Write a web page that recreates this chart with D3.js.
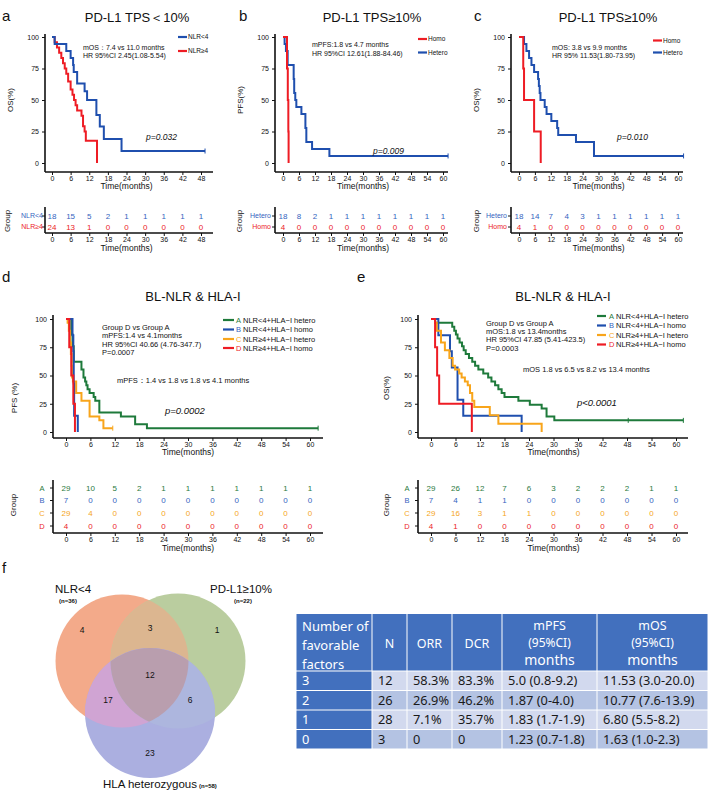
<!DOCTYPE html>
<html><head><meta charset="utf-8">
<script src="https://cdn.jsdelivr.net/npm/d3@7"></script>
<style>
body{margin:0;background:#fff}
svg{display:block}
text{font-family:"Liberation Sans",Arial,sans-serif}
</style>
</head><body>
<svg id="c" width="709" height="791"></svg>
<script>
// ---------------- DATA ----------------
const ticks48 = [0,6,12,18,24,30,36,42,48];
const ticks60 = [0,6,12,18,24,30,36,42,48,54,60];
const yTicks = [0,25,50,75,100];

// Panel a (OS, PD-L1 TPS<10%)
const aNLRlow = [[0,100],[0.86,94.4],[4.6,88.9],[6.0,83.3],[6.8,77.8],[7.0,72.2],[8.1,63.0],[10.5,57.0],[11.3,50.0],[14.3,38.0],[15.4,29.0],[16.7,19.0],[22.4,9.5]];
const aNLRlowEnd = 49.3;
const aNLRhigh = [[0,100],[0.86,95.8],[1.6,91.7],[2.3,87.5],[3.0,83.3],[3.55,79.2],[4.1,75.0],[4.6,70.8],[5.2,64.6],[6.0,58.3],[6.6,54.2],[7.1,50.0],[7.6,45.8],[8.1,41.7],[9.5,37.5],[10.0,29.2],[10.5,25.0],[10.9,17.6],[14.5,0]];
const aRiskLow = [18,15,5,2,1,1,1,1,1];
const aRiskHigh = [24,13,1,0,0,0,0,0,0];

// Panel b (PFS, PD-L1 TPS>=10%)
const bHomo = [[0,100],[1.5,75],[1.8,50],[2.0,25],[2.1,0]];
const bHetero = [[0,100],[0.6,94.4],[1.1,88.9],[1.75,77.8],[4.0,66.7],[4.2,55.6],[4.6,50.0],[5.0,44.4],[6.9,38.9],[8.4,27.8],[8.75,16.7],[10.9,11.1],[17.4,5.6]];
const bHeteroEnd = 61.9;
const bRiskHetero = [18,8,2,1,1,1,1,1,1,1,1];
const bRiskHomo = [4,0,0,0,0,0,0,0,0,0,0];

// Panel c (OS, PD-L1 TPS>=10%)
const cHomo = [[0,100],[1.6,75],[1.9,50],[5.7,25],[8.2,0]];
const cHetero = [[0,100],[1.9,94.4],[2.8,88.9],[3.8,83.3],[4.7,77.8],[5.7,72.2],[7.2,66.7],[7.5,61.1],[7.8,55.6],[8.1,50.0],[9.7,44.4],[10.4,38.9],[12.2,33.3],[14.4,27.8],[14.8,22.2],[21.5,16.7],[28.3,5.6]];
const cHeteroEnd = 62.1;
const cRiskHetero = [18,14,7,4,3,1,1,1,1,1,1];
const cRiskHomo = [4,1,0,0,0,0,0,0,0,0,0];

// Panel d (PFS, BL-NLR & HLA-I)
const dA = [[0,100],[1.3,86.2],[1.6,75.9],[1.9,62.1],[3.8,55.2],[4.3,48.3],[4.7,44.8],[5.0,41.4],[5.3,37.9],[5.8,34.5],[6.8,31.0],[7.2,27.6],[8.2,17.2],[13.5,13.8],[17.0,6.9],[19.9,3.4]];
const dAEnd = 62;
const dB = [[0,100],[1.6,85.7],[1.8,71.4],[1.9,42.9],[2.0,14.3],[2.9,0]];
const dC = [[0,100],[0.4,96.6],[0.7,89.7],[1.0,79.3],[1.2,69.0],[1.4,58.6],[1.5,48.3],[1.7,44.8],[2.5,34.5],[3.8,27.6],[5.8,13.8],[8.2,10.3],[9.2,3.4]];
const dCEnd = 11.5;
const dD = [[0,100],[0.8,75],[1.3,50],[1.8,25],[2.2,0]];
const dRiskA = [29,10,5,2,1,1,1,1,1,1,1];
const dRiskB = [7,0,0,0,0,0,0,0,0,0,0];
const dRiskC = [29,4,0,0,0,0,0,0,0,0,0];
const dRiskD = [4,0,0,0,0,0,0,0,0,0,0];

// Panel e (OS, BL-NLR & HLA-I)
const eA = [[0,100],[1.0,96.6],[5.2,93.1],[5.7,89.7],[6.1,86.2],[6.5,82.8],[7.0,79.3],[7.6,75.9],[8.0,72.4],[8.5,69.0],[9.3,65.5],[10.1,62.1],[10.8,58.6],[11.6,55.2],[12.8,51.7],[14.0,48.3],[14.8,44.8],[15.7,41.4],[16.5,37.9],[17.3,34.5],[18.0,31.0],[21.4,27.6],[24.2,24.1],[27.1,20.7],[28.3,13.8],[30.2,10.3]];
const eAEnd = 61.8;
const eACensor = [48.3];
const eB = [[0,100],[1.8,85.7],[4.65,71.4],[5.1,57.1],[6.5,28.6],[7.9,14.3],[22.2,0]];
const eC = [[0,100],[1.0,96.6],[1.4,89.7],[2.45,79.3],[3.4,72.4],[4.5,65.5],[5.3,58.6],[5.9,55.2],[6.9,51.7],[7.5,48.3],[8.3,44.8],[9.0,41.4],[9.55,34.5],[10.1,27.6],[10.6,22.2],[14.4,14.8],[16.5,7.4],[27.1,0]];
const eD = [[0,100],[1.0,75],[1.5,50],[2.0,25],[10.0,0]];
const eRiskA = [29,26,12,7,6,3,2,2,2,1,1];
const eRiskB = [7,4,1,1,0,0,0,0,0,0,0];
const eRiskC = [29,16,3,1,1,0,0,0,0,0,0];
const eRiskD = [4,1,0,0,0,0,0,0,0,0,0];

// Panel f Venn
const vennNames = ["NLR<4","PD-L1≥10%","HLA heterozygous"];
const vennN = ["(n=36)","(n=22)","(n=58)"];
const vennOnly = [4,1,23];          // A only, B only, C only
const vennPairs = [3,17,6];          // AB, AC, BC
const vennAll = 12;

// Panel f table
const tblHeader = [["Number of","favorable","factors"],["N"],["ORR"],["DCR"],["mPFS","(95%CI)","months"],["mOS","(95%CI)","months"]];
const tblFactors = ["3","2","1","0"];
const tblN = ["12","26","28","3"];
const tblORR = ["58.3%","26.9%","7.1%","0"];
const tblDCR = ["83.3%","46.2%","35.7%","0"];
const tblPFS = ["5.0 (0.8-9.2)","1.87 (0-4.0)","1.83 (1.7-1.9)","1.23 (0.7-1.8)"];
const tblOS = ["11.53 (3.0-20.0)","10.77 (7.6-13.9)","6.80 (5.5-8.2)","1.63 (1.0-2.3)"];

// ---------------- STYLE ----------------
const BLUE = "#1f4fae", RED = "#ee1c24", GREEN = "#1e7a3b", ORANGE = "#f8a51b";
const tBLUE = "#3564c0", tRED = "#eb2328", tGREEN = "#2b7a40", tORANGE = "#f5a623";

const svg = d3.select("#c");

function txt(x, y, s, o = {}) {
  const t = svg.append("text").attr("x", x).attr("y", y).text(s)
    .attr("font-size", o.size || 7).attr("fill", o.fill || "#111")
    .attr("text-anchor", o.anchor || "start");
  if (o.weight) t.attr("font-weight", o.weight);
  if (o.style) t.attr("font-style", o.style);
  if (o.rotate) t.attr("transform", `rotate(-90,${x},${y})`);
  if (o.dy) t.attr("dy", o.dy);
  if (o.family) t.style("font-family", o.family);
  return t;
}

function drawKM(p) {
  const x = d3.scaleLinear().domain([0, p.xMax]).range([p.x0, p.x1]);
  const y = d3.scaleLinear().domain([0, 100]).range([p.y0, p.y100]);
  const g = svg.append("g");
  const gx = g.append("g").attr("transform", `translate(0,${p.axisY})`)
    .call(d3.axisBottom(x).tickValues(p.ticks).tickSize(3).tickPadding(1.5));
  gx.select(".domain").remove();
  gx.selectAll("line").attr("stroke", "#111").attr("stroke-width", 1);
  gx.selectAll("text").attr("font-size", 7).attr("fill", "#111").style("font-family", '"Liberation Sans",Arial,sans-serif');
  g.append("line").attr("x1", p.axisX).attr("x2", p.axisEnd).attr("y1", p.axisY).attr("y2", p.axisY)
    .attr("stroke", "#111").attr("stroke-width", 1.6);
  const gy = g.append("g").attr("transform", `translate(${p.axisX},0)`)
    .call(d3.axisLeft(y).tickValues(yTicks).tickSize(3).tickPadding(3));
  gy.select(".domain").remove();
  gy.selectAll("line").attr("stroke", "#111");
  gy.selectAll("text").attr("font-size", 7).attr("fill", "#111").style("font-family", '"Liberation Sans",Arial,sans-serif');
  g.append("line").attr("x1", p.axisX).attr("x2", p.axisX).attr("y1", p.yTop).attr("y2", p.axisY)
    .attr("stroke", "#111").attr("stroke-width", 1.6);
  const line = d3.line().x(d => x(d[0])).y(d => y(d[1])).curve(d3.curveStepAfter);
  p.series.forEach(s => {
    const pts = s.data.slice();
    if (s.end != null) pts.push([s.end, pts[pts.length - 1][1]]);
    g.append("path").attr("d", line(pts)).attr("fill", "none")
      .attr("stroke", s.color).attr("stroke-width", 2);
    const last = pts[pts.length - 1][1];
    const cens = (s.censor || []).slice();
    if (s.end != null && last > 0) cens.push(s.end);
    cens.forEach(t => {
      let v = last;
      for (const d of s.data) if (d[0] <= t) v = d[1];
      g.append("line").attr("x1", x(t)).attr("x2", x(t)).attr("y1", y(v) - 2.5).attr("y2", y(v) + 2.5)
        .attr("stroke", s.color).attr("stroke-width", 1);
    });
  });
  txt((p.x0 + p.x1) / 2 + (p.titleShift || 0), p.axisY + 17, "Time(months)", { size: 8.5, anchor: "middle" });
  txt(p.yLabX, p.yLabY, p.yLab, { size: 8, anchor: "middle", rotate: true });
  return x;
}

function drawRisk(p) {
  const x = d3.scaleLinear().domain([0, p.xMax]).range([p.x0, p.x1]);
  const g = svg.append("g");
  const gx = g.append("g").attr("transform", `translate(0,${p.lineY})`)
    .call(d3.axisBottom(x).tickValues(p.ticks).tickSize(3).tickPadding(1.5));
  gx.select(".domain").remove();
  gx.selectAll("line").attr("stroke", "#111");
  gx.selectAll("text").attr("font-size", 7).attr("fill", "#111").style("font-family", '"Liberation Sans",Arial,sans-serif');
  g.append("line").attr("x1", p.axisX).attr("x2", p.axisEnd).attr("y1", p.lineY).attr("y2", p.lineY)
    .attr("stroke", "#111").attr("stroke-width", 1.6);
  g.append("line").attr("x1", p.axisX).attr("x2", p.axisX).attr("y1", p.lineTop).attr("y2", p.lineY)
    .attr("stroke", "#111").attr("stroke-width", 1.6);
  p.rows.forEach((r, i) => {
    const yy = p.rowsY[i];
    g.append("line").attr("x1", p.axisX - 3).attr("x2", p.axisX).attr("y1", yy).attr("y2", yy).attr("stroke", "#111");
    txt(p.labelX, yy, r.label, { size: p.labelSize || 7, fill: r.color, anchor: p.labelAnchor || "end", dy: "0.35em" });
    r.values.forEach((v, j) => {
      txt(x(p.ticks[j]), yy, v, { size: 8, fill: r.color, anchor: "middle", dy: "0.35em" });
    });
  });
  txt((p.x0 + p.x1) / 2 + (p.titleShift || 0), p.lineY + 18, "Time(months)", { size: 8.5, anchor: "middle" });
  txt(p.groupX, p.groupY, "Group", { size: 8, anchor: "middle", rotate: true });
}

function legendLine(x1, x2, y, color) {
  svg.append("line").attr("x1", x1).attr("x2", x2).attr("y1", y).attr("y2", y)
    .attr("stroke", color).attr("stroke-width", 2.2);
}

// ---------------- PANEL a ----------------
txt(2, 21, "a", { size: 15 });
txt(137, 22, "PD-L1 TPS＜10%", { size: 13, anchor: "middle" });
drawKM({ x0: 52, x1: 201, xMax: 48, ticks: ticks48, y0: 163, y100: 37, axisX: 45, axisY: 172, axisEnd: 213, yTop: 34,
  yLab: "OS(%)", yLabX: 13, yLabY: 100,
  series: [{ data: aNLRhigh, color: RED }, { data: aNLRlow, color: BLUE, end: aNLRlowEnd }] });
legendLine(178, 187, 37, BLUE); txt(188, 37, "NLR<4", { size: 6.5, dy: "0.35em" });
legendLine(178, 187, 51, RED); txt(188, 51, "NLR≥4", { size: 6.5, dy: "0.35em" });
txt(83, 49.5, "mOS：7.4 vs 11.0 months", { size: 7 });
txt(83, 58, "HR 95%CI 2.45(1.08-5.54)", { size: 7 });
txt(146, 140, "p=0.032", { size: 8.5, style: "italic" });
drawRisk({ x0: 52, x1: 201, xMax: 48, ticks: ticks48, axisX: 45, axisEnd: 213, lineY: 233, lineTop: 207,
  rowsY: [216, 227], labelX: 43, groupX: 10, groupY: 221,
  rows: [{ label: "NLR<4", color: tBLUE, values: aRiskLow }, { label: "NLR≥4", color: tRED, values: aRiskHigh }] });

// ---------------- PANEL b ----------------
txt(239, 21, "b", { size: 15 });
txt(372, 22, "PD-L1 TPS≥10%", { size: 13, anchor: "middle" });
drawKM({ x0: 283, x1: 443, xMax: 60, ticks: ticks60, y0: 163, y100: 37, axisX: 275, axisY: 172, axisEnd: 448, yTop: 34,
  yLab: "PFS(%)", yLabX: 243, yLabY: 100,
  series: [{ data: bHetero, color: BLUE, end: bHeteroEnd }, { data: bHomo, color: RED }] });
legendLine(418, 427, 39, RED); txt(428, 39, "Homo", { size: 6.5, dy: "0.35em" });
legendLine(418, 427, 52.5, BLUE); txt(428, 52.5, "Hetero", { size: 6.5, dy: "0.35em" });
txt(312, 47, "mPFS:1.8 vs 4.7 months", { size: 7 });
txt(312, 55.5, "HR 95%CI 12.61(1.88-84.46)", { size: 7 });
txt(373, 154, "p=0.009", { size: 8.5, style: "italic" });
drawRisk({ x0: 283, x1: 443, xMax: 60, ticks: ticks60, axisX: 275, axisEnd: 448, lineY: 233, lineTop: 207,
  rowsY: [216, 227], labelX: 271, groupX: 242, groupY: 221,
  rows: [{ label: "Hetero", color: tBLUE, values: bRiskHetero }, { label: "Homo", color: tRED, values: bRiskHomo }] });

// ---------------- PANEL c ----------------
txt(474, 21, "c", { size: 15 });
txt(608, 22, "PD-L1 TPS≥10%", { size: 13, anchor: "middle" });
drawKM({ x0: 519, x1: 678, xMax: 60, ticks: ticks60, y0: 163, y100: 37, axisX: 511, axisY: 172, axisEnd: 683, yTop: 34,
  yLab: "OS(%)", yLabX: 479, yLabY: 100,
  series: [{ data: cHetero, color: BLUE, end: cHeteroEnd }, { data: cHomo, color: RED }] });
legendLine(653, 662, 40.5, RED); txt(663, 40.5, "Homo", { size: 6.5, dy: "0.35em" });
legendLine(653, 662, 52.5, BLUE); txt(663, 52.5, "Hetero", { size: 6.5, dy: "0.35em" });
txt(552, 49.5, "mOS: 3.8 vs 9.9 months", { size: 7 });
txt(552, 57.5, "HR 95% 11.53(1.80-73.95)", { size: 7 });
txt(617, 140, "p=0.010", { size: 8.5, style: "italic" });
drawRisk({ x0: 519, x1: 678, xMax: 60, ticks: ticks60, axisX: 511, axisEnd: 683, lineY: 233, lineTop: 207,
  rowsY: [216, 227], labelX: 507, groupX: 479, groupY: 221,
  rows: [{ label: "Hetero", color: tBLUE, values: cRiskHetero }, { label: "Homo", color: tRED, values: cRiskHomo }] });

// ---------------- PANEL d ----------------
txt(2, 282, "d", { size: 15 });
txt(193, 301, "BL-NLR & HLA-I", { size: 13, anchor: "middle" });
drawKM({ x0: 66, x1: 310, xMax: 60, ticks: ticks60, y0: 432, y100: 319, axisX: 53, axisY: 438, axisEnd: 323, yTop: 315,
  yLab: "PFS  (%)", yLabX: 17, yLabY: 398,
  series: [{ data: dA, color: GREEN, end: dAEnd }, { data: dC, color: ORANGE, end: dCEnd }, { data: dB, color: BLUE }, { data: dD, color: RED }] });
const legD = [["A", "NLR<4+HLA−I hetero", GREEN, tGREEN], ["B", "NLR<4+HLA−I homo", BLUE, tBLUE], ["C", "NLR≥4+HLA−I hetero", ORANGE, tORANGE], ["D", "NLR≥4+HLA−I homo", RED, tRED]];
[320, 329.5, 339, 348].forEach((yy, i) => {
  legendLine(223, 234, yy, legD[i][2]);
  txt(236, yy, legD[i][0], { size: 7.5, fill: legD[i][3], dy: "0.35em" });
  txt(243, yy, legD[i][1], { size: 7.5, dy: "0.35em" });
});
txt(102, 329.5, "Group D vs Group A", { size: 7.5 });
txt(102, 338, "mPFS:1.4 vs  4.1months", { size: 7.5 });
txt(102, 346.5, "HR  95%CI 40.66  (4.76-347.7)", { size: 7.5 });
txt(102, 355, "P=0.0007", { size: 7.5 });
txt(117, 382.5, "mPFS：1.4 vs 1.8 vs 1.8 vs 4.1 months", { size: 7.5 });
txt(165, 413.5, "p=0.0002", { size: 9.5, style: "italic" });
drawRisk({ x0: 66, x1: 310, xMax: 60, ticks: ticks60, axisX: 53, axisEnd: 323, lineY: 533, lineTop: 480,
  rowsY: [488, 500.5, 513, 526], labelX: 42, labelAnchor: "middle", labelSize: 7.5, groupX: 16, groupY: 505,
  rows: [{ label: "A", color: tGREEN, values: dRiskA }, { label: "B", color: tBLUE, values: dRiskB },
         { label: "C", color: tORANGE, values: dRiskC }, { label: "D", color: tRED, values: dRiskD }] });

// ---------------- PANEL e ----------------
txt(357, 282, "e", { size: 15 });
txt(563, 301, "BL-NLR & HLA-I", { size: 13, anchor: "middle" });
drawKM({ x0: 431, x1: 676, xMax: 60, ticks: ticks60, y0: 432, y100: 319, axisX: 418, axisY: 438, axisEnd: 688, yTop: 315,
  yLab: "OS(%)", yLabX: 389, yLabY: 388,
  series: [{ data: eA, color: GREEN, end: eAEnd, censor: eACensor }, { data: eB, color: BLUE }, { data: eC, color: ORANGE }, { data: eD, color: RED }] });
[316, 325.5, 335, 344.5].forEach((yy, i) => {
  legendLine(597, 606, yy, legD[i][2]);
  txt(609, yy, legD[i][0], { size: 7.5, fill: legD[i][3], dy: "0.35em" });
  txt(616, yy, legD[i][1], { size: 7.5, dy: "0.35em" });
});
txt(486, 326, "Group D vs Group A", { size: 7.5 });
txt(486, 334, "mOS:1.8 vs 13.4months", { size: 7.5 });
txt(486, 342, "HR  95%CI 47.85 (5.41-423.5)", { size: 7.5 });
txt(486, 350.5, "P=0.0003", { size: 7.5 });
txt(523, 371.5, "mOS 1.8 vs 6.5 vs 8.2 vs 13.4 months", { size: 7.5 });
txt(577, 406, "p<0.0001", { size: 9.5, style: "italic" });
drawRisk({ x0: 431, x1: 676, xMax: 60, ticks: ticks60, axisX: 418, axisEnd: 688, lineY: 533, lineTop: 480,
  rowsY: [488, 500.5, 513, 526], labelX: 407, labelAnchor: "middle", labelSize: 7.5, groupX: 389, groupY: 505,
  rows: [{ label: "A", color: tGREEN, values: eRiskA }, { label: "B", color: tBLUE, values: eRiskB },
         { label: "C", color: tORANGE, values: eRiskC }, { label: "D", color: tRED, values: eRiskD }] });

// ---------------- PANEL f : Venn ----------------
txt(2, 573, "f", { size: 15 });
const circ = [{ cx: 122, cy: 661, r: 66.5 }, { cx: 178, cy: 661, r: 67.5 }, { cx: 150, cy: 713, r: 65 }];
const onlyCol = ["#f3aa8a", "#bacd9f", "#abafe0"];
const pairCol = ["#dcb690", "#d0a4d3", "#adb6de"]; // AB, AC, BC
const allCol = "#b99eae";
const defs = svg.append("defs");
circ.forEach((c, i) => {
  defs.append("clipPath").attr("id", "clip" + i).append("circle").attr("cx", c.cx).attr("cy", c.cy).attr("r", c.r);
});
const vg = svg.append("g");
circ.forEach((c, i) => vg.append("circle").attr("cx", c.cx).attr("cy", c.cy).attr("r", c.r).attr("fill", onlyCol[i]));
const pairIdx = [[0, 1], [0, 2], [1, 2]];
pairIdx.forEach((pr, k) => {
  const c = circ[pr[1]];
  vg.append("g").attr("clip-path", `url(#clip${pr[0]})`)
    .append("circle").attr("cx", c.cx).attr("cy", c.cy).attr("r", c.r).attr("fill", pairCol[k]);
});
vg.append("g").attr("clip-path", "url(#clip0)").append("g").attr("clip-path", "url(#clip1)")
  .append("circle").attr("cx", circ[2].cx).attr("cy", circ[2].cy).attr("r", circ[2].r).attr("fill", allCol);
const onlyPos = [[82, 630], [217, 630], [150, 753]];
const pairPos = [[150, 628], [108, 700], [190, 700]];
vennOnly.forEach((v, i) => txt(onlyPos[i][0], onlyPos[i][1], v, { size: 8.5, anchor: "middle", dy: "0.35em" }));
vennPairs.forEach((v, i) => txt(pairPos[i][0], pairPos[i][1], v, { size: 8.5, anchor: "middle", dy: "0.35em" }));
txt(150, 675, vennAll, { size: 8.5, anchor: "middle", dy: "0.35em" });
txt(55, 593, vennNames[0], { size: 11.5 });
txt(68, 603, vennN[0], { size: 6, anchor: "middle", weight: "bold" });
txt(210, 593, vennNames[1], { size: 11.5 });
txt(243, 603, vennN[1], { size: 6, anchor: "middle", weight: "bold" });
txt(103, 788, vennNames[2], { size: 11.5 });
txt(199, 788, vennN[2], { size: 6, weight: "bold" });

// ---------------- PANEL f : Table ----------------
const colX = [296, 372, 407, 452, 502, 597, 708];
const rowY = [614, 671, 690.5, 710, 729.5, 749];
const HEAD = "#4270be", ROW1 = "#d2d9ee", ROW2 = "#b4c3e3";
const tg = svg.append("g");
const tf = '"Noto Sans","Liberation Sans",Arial,sans-serif';
tg.append("rect").attr("x", colX[0]).attr("y", rowY[0]).attr("width", colX[6] - colX[0]).attr("height", rowY[5] - rowY[0]).attr("fill", "#fff");
for (let c = 0; c < 6; c++) {
  tg.append("rect").attr("x", colX[c] + 0.5).attr("y", rowY[0]).attr("width", colX[c + 1] - colX[c] - 1)
    .attr("height", rowY[1] - rowY[0] - 0.5).attr("fill", HEAD);
}
const cols = [tblFactors, tblN, tblORR, tblDCR, tblPFS, tblOS];
for (let r = 0; r < 4; r++) {
  for (let c = 0; c < 6; c++) {
    tg.append("rect").attr("x", colX[c] + 0.5).attr("y", rowY[r + 1] + 0.5).attr("width", colX[c + 1] - colX[c] - 1)
      .attr("height", rowY[r + 2] - rowY[r + 1] - 1).attr("fill", c === 0 ? HEAD : (r % 2 === 0 ? ROW1 : ROW2));
    const cy = (rowY[r + 1] + rowY[r + 2]) / 2;
    txt(colX[c] + 6, cy, cols[c][r], { size: 12.8, fill: c === 0 ? "#fff" : "#1a1a1a", dy: "0.36em", family: tf });
  }
}
txt(302, 626, tblHeader[0][0], { size: 13, fill: "#fff", dy: "0.36em", family: tf });
txt(302, 645, tblHeader[0][1], { size: 13, fill: "#fff", dy: "0.36em", family: tf });
txt(302, 664, tblHeader[0][2], { size: 13, fill: "#fff", dy: "0.36em", family: tf });
[1, 2, 3].forEach(c => txt((colX[c] + colX[c + 1]) / 2, 643, tblHeader[c][0], { size: 12.5, fill: "#fff", anchor: "middle", dy: "0.36em", family: tf }));
[4, 5].forEach(c => {
  const cx = (colX[c] + colX[c + 1]) / 2;
  txt(cx, 625, tblHeader[c][0], { size: 12.5, fill: "#fff", anchor: "middle", dy: "0.36em", family: tf });
  txt(cx, 643, tblHeader[c][1], { size: 12, fill: "#fff", anchor: "middle", dy: "0.36em", family: tf });
  txt(cx, 660, tblHeader[c][2], { size: 14, fill: "#fff", anchor: "middle", dy: "0.36em", family: tf });
});
</script>
</body></html>
